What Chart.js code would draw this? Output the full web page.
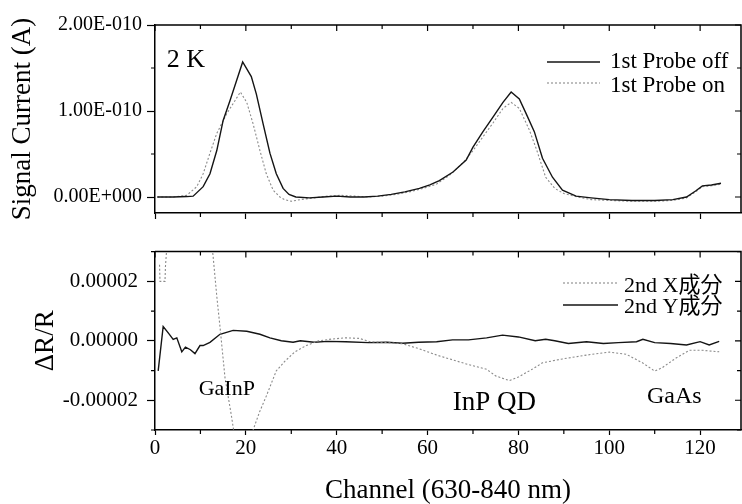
<!DOCTYPE html>
<html>
<head>
<meta charset="utf-8">
<script src="https://cdn.jsdelivr.net/npm/chart.js@4.4.0/dist/chart.umd.min.js"></script>
<style>
  html, body { margin: 0; padding: 0; background: #fff; }
  #wrap { position: relative; width: 742px; height: 504px; }
  canvas { position: absolute; left: 0; }
  #topPanel { top: 0; }
  #bottomPanel { top: 230px; }
</style>
</head>
<body>
<div id="wrap">
  <canvas id="topPanel" width="742" height="230"></canvas>
  <canvas id="bottomPanel" width="742" height="274"></canvas>
</div>
<script>
// ======================= data =======================
// upper panel: signal current (A)
const offChannels = [0.5, 4, 7, 8.4, 10.6, 12.1, 13.6, 15, 16.5, 18, 19.3, 21.2, 22.3, 23.8, 25.3, 26.7, 28.2, 29.5,
  31, 34, 37, 40, 43, 46, 49, 52, 55, 58.2, 60.5, 62.6, 65.6, 68.5, 70, 72.2, 74.4, 76.6, 78.4, 80.2, 81.7, 83.5,
  85.3, 87.5, 89.7, 92.7, 96, 100, 105, 110, 114, 117, 119, 120.5, 122.5, 124.6];
const offCurrent = [0, 0, 0.005e-10, 0.01e-10, 0.12e-10, 0.27e-10, 0.54e-10, 0.89e-10, 1.12e-10, 1.36e-10, 1.57e-10,
  1.40e-10, 1.2e-10, 0.85e-10, 0.51e-10, 0.27e-10, 0.1e-10, 0.03e-10,
  0, -0.01e-10, 0, 0.01e-10, 0, 0, 0.01e-10, 0.03e-10, 0.06e-10, 0.1e-10, 0.14e-10, 0.19e-10, 0.29e-10, 0.43e-10,
  0.58e-10, 0.76e-10, 0.93e-10, 1.10e-10, 1.22e-10, 1.14e-10, 0.97e-10, 0.76e-10,
  0.45e-10, 0.23e-10, 0.08e-10, 0.01e-10, -0.01e-10, -0.03e-10, -0.04e-10, -0.04e-10, -0.03e-10, 0, 0.07e-10,
  0.13e-10, 0.14e-10, 0.16e-10];

const onChannels = [0.5, 4, 7, 9.2, 10.6, 12.1, 13.6, 15.8, 17.6, 18.8, 20.2, 21.6, 23.1, 24.5, 26, 27.5, 28.5,
  30, 32, 35, 38, 41, 44, 47, 50, 53, 56, 59, 62, 65, 68, 70, 72.2, 74.4, 76.6, 78.4, 80.2, 82.4, 84,
  86, 88, 90, 93, 96, 100, 105, 110, 114, 117, 119, 120.5, 122.5, 124.6];
const onCurrent = [0, 0, 0.02e-10, 0.12e-10, 0.27e-10, 0.51e-10, 0.74e-10, 0.97e-10, 1.12e-10, 1.22e-10, 1.1e-10,
  0.85e-10, 0.54e-10, 0.27e-10, 0.08e-10, 0, -0.03e-10,
  -0.05e-10, -0.03e-10, -0.01e-10, 0.01e-10, 0.02e-10, 0.01e-10, 0, 0.01e-10, 0.03e-10, 0.06e-10, 0.1e-10,
  0.15e-10, 0.26e-10, 0.41e-10, 0.54e-10, 0.7e-10, 0.86e-10, 1.03e-10, 1.10e-10, 1.03e-10, 0.78e-10, 0.55e-10,
  0.23e-10, 0.1e-10, 0.04e-10, 0, -0.03e-10, -0.04e-10, -0.05e-10, -0.05e-10, -0.04e-10, -0.01e-10, 0.06e-10,
  0.12e-10, 0.13e-10, 0.15e-10];

// lower panel: dR/R
const xChannels = [1.0, 1.1, 2.2, 2.3, 3, 6, 9, 12, 12.8, 13.6, 14.3, 15.4, 16.8, 17.5, 18.5, 19.5, 20.5, 21.6,
  23, 24.5, 26.7, 28.5, 30.8, 33.3, 36, 39, 42, 45, 47.3, 51, 54.5, 58, 62, 65.5, 69, 73, 75, 78, 80, 83,
  85.3, 89.7, 95, 100, 103.7, 107.3, 110, 111.7, 114.7, 117.6, 120.5, 124.2];
const xComponent = [2.56e-5, 2.0e-5, 2.0e-5, 2.5e-5, 4.0e-5, 5.5e-5, 5.0e-5, 4.0e-5, 2.83e-5, 1.5e-5, 0.48e-5,
  -1.23e-5, -2.5e-5, -3.2e-5, -4.0e-5, -4.2e-5, -3.6e-5, -3.0e-5,
  -2.4e-5, -1.86e-5, -1.01e-5, -0.7e-5, -0.37e-5, -0.16e-5, 0, 0.06e-5, 0.1e-5, 0.08e-5, -0.03e-5, -0.06e-5,
  -0.1e-5, -0.26e-5, -0.48e-5, -0.64e-5, -0.8e-5, -0.96e-5, -1.18e-5, -1.34e-5, -1.22e-5, -0.96e-5,
  -0.74e-5, -0.61e-5, -0.48e-5, -0.38e-5, -0.45e-5, -0.74e-5, -1.02e-5, -0.9e-5, -0.58e-5, -0.32e-5,
  -0.32e-5, -0.37e-5];

const yChannels = [0.7, 1.8, 3, 4, 4.8, 5.9, 6.7, 7.8, 8.8, 9.9, 10.6, 12.1, 14.3, 17.2, 20.2, 23.1, 25.3, 27.8,
  30.4, 32, 35, 38, 42, 47, 51, 54.5, 58, 62, 65.5, 69, 73, 76.5, 80, 83.7, 86, 88, 91, 95, 98.7, 102, 106,
  107.4, 110, 113.5, 117, 120, 122, 124.2];
const yComponent = [-1.01e-5, 0.48e-5, 0.25e-5, 0.05e-5, 0.1e-5, -0.37e-5, -0.21e-5, -0.3e-5, -0.43e-5, -0.16e-5,
  -0.16e-5, -0.05e-5, 0.22e-5, 0.35e-5, 0.32e-5, 0.22e-5, 0.1e-5, 0,
  -0.05e-5, 0, -0.05e-5, -0.02e-5, -0.03e-5, -0.06e-5, -0.05e-5, -0.08e-5, -0.05e-5, -0.03e-5, 0.03e-5, 0.03e-5,
  0.1e-5, 0.19e-5, 0.13e-5, 0, 0.05e-5, 0, -0.09e-5, -0.03e-5, -0.09e-5, -0.06e-5, -0.03e-5,
  0.05e-5, -0.06e-5, -0.09e-5, -0.14e-5, -0.03e-5, -0.14e-5, -0.02e-5];

const topLabels = ["1st Probe off", "1st Probe on"];
const bottomLabels = ["2nd X成分", "2nd Y成分"];

// major (labelled) ticks
const channelTicks = [0, 20, 40, 60, 80, 100, 120];
const currentTicks = [0, 1e-10, 2e-10];
const ratioTicks = [-2e-5, 0, 2e-5];

// text marks in the panels: [text, channel, value, font size, align]
const topNotes = [["2 K", 2.6, 1.51e-10, 26, "left"]];
const bottomNotes = [
  ["GaInP", 15.8, -1.82e-5, 22, "center"],
  ["InP QD", 74.7, -2.34e-5, 27, "center"],
  ["GaAs", 114.3, -2.08e-5, 24, "center"],
];

// ======================= helpers =======================
const SERIF = "'Liberation Serif', 'Noto Sans CJK JP', serif";
Chart.defaults.font.family = SERIF;
Chart.defaults.color = "#000";

const toPoints = (xs, ys) => xs.map((x, i) => ({ x: x, y: ys[i] }));

function splitTicks(scale, majors) {
  const eps = scale.options.ticks.stepSize * 1e-3;
  const isMajor = v => majors.some(m => Math.abs(v - m) < eps);
  scale.minorValues = scale.ticks.filter(t => !isMajor(t.value)).map(t => t.value);
  scale.ticks = scale.ticks.filter(t => isMajor(t.value));
}

function formatE(v) {
  if (Math.abs(v) < 1e-15) return "0.00E+000";
  const parts = v.toExponential(2).split("e");
  const n = parseInt(parts[1], 10);
  return parts[0] + "E" + (n < 0 ? "-" : "+") + String(Math.abs(n)).padStart(3, "0");
}

// frame on top/right, minor ticks, mirrored ticks, legend and notes
const panelDecor = {
  id: "panelDecor",
  afterDraw(chart, args, opts) {
    const { ctx, chartArea: a } = chart;
    const x = chart.scales.x, y = chart.scales.y;
    ctx.save();
    ctx.strokeStyle = "#000";
    ctx.lineWidth = 1.5;
    ctx.beginPath();
    ctx.moveTo(a.left, a.top);
    ctx.lineTo(a.right, a.top);
    ctx.lineTo(a.right, a.bottom);
    ctx.stroke();

    ctx.lineWidth = 1.2;
    ctx.beginPath();
    x.ticks.forEach(t => {
      const p = x.getPixelForValue(t.value);
      ctx.moveTo(p, a.top); ctx.lineTo(p, a.top + 6);
    });
    (x.minorValues || []).forEach(v => {
      const p = x.getPixelForValue(v);
      ctx.moveTo(p, a.top); ctx.lineTo(p, a.top + 4);
      ctx.moveTo(p, a.bottom); ctx.lineTo(p, a.bottom + 4);
    });
    y.ticks.forEach(t => {
      const p = y.getPixelForValue(t.value);
      ctx.moveTo(a.right, p); ctx.lineTo(a.right - 6, p);
    });
    (y.minorValues || []).forEach(v => {
      const p = y.getPixelForValue(v);
      ctx.moveTo(a.left, p); ctx.lineTo(a.left - 4, p);
      ctx.moveTo(a.right, p); ctx.lineTo(a.right - 4, p);
    });
    ctx.stroke();

    // legend
    const lg = opts.legend;
    ctx.font = lg.size + "px " + SERIF;
    ctx.textAlign = "left";
    ctx.textBaseline = "alphabetic";
    chart.data.datasets.forEach((ds, i) => {
      ctx.strokeStyle = ds.borderColor;
      ctx.lineWidth = ds.borderWidth;
      ctx.setLineDash(ds.borderDash || []);
      ctx.beginPath();
      ctx.moveTo(lg.x1, lg.lineY[i]);
      ctx.lineTo(lg.x2, lg.lineY[i]);
      ctx.stroke();
      ctx.setLineDash([]);
      ctx.fillStyle = "#000";
      ctx.fillText(ds.label, lg.textX, lg.textY[i]);
    });

    // notes
    opts.notes.forEach(n => {
      ctx.font = n[3] + "px " + SERIF;
      ctx.textAlign = n[4];
      ctx.fillText(n[0], x.getPixelForValue(n[1]), y.getPixelForValue(n[2]));
    });
    ctx.restore();
  }
};

function xScale(height, showLabels, title) {
  return {
    type: "linear", min: 0, max: 129,
    ticks: {
      stepSize: 10, includeBounds: false, autoSkip: false, maxRotation: 0, padding: 1, font: { size: 21 },
      callback: v => (showLabels ? String(v) : "")
    },
    afterBuildTicks: s => splitTicks(s, channelTicks),
    afterFit: s => { s.height = height; },
    grid: { drawOnChartArea: false, tickLength: showLabels ? 5 : 6, tickColor: "#000", tickWidth: 1.2 },
    border: { color: "#000", width: 1.5 },
    title: title
  };
}

// ======================= upper chart =======================
new Chart(document.getElementById("topPanel").getContext("2d"), {
  type: "line",
  data: {
    datasets: [
      { label: topLabels[0], data: toPoints(offChannels, offCurrent),
        borderColor: "#141414", borderWidth: 1.4, pointRadius: 0 },
      { label: topLabels[1], data: toPoints(onChannels, onCurrent),
        borderColor: "#8a8a8a", borderWidth: 1.1, borderDash: [2, 2], pointRadius: 0 },
    ],
  },
  options: {
    responsive: false,
    animation: false,
    layout: { padding: { top: 25, right: 1, left: 0, bottom: 0 } },
    scales: {
      x: xScale(17, false, { display: false }),
      y: {
        min: -1.86e-11, max: 2e-10,
        ticks: { stepSize: 5e-11, includeBounds: false, autoSkip: false, padding: 5, font: { size: 20 },
          callback: v => formatE(v) },
        afterBuildTicks: s => splitTicks(s, currentTicks),
        afterFit: s => { s.width = 155; },
        grid: { drawOnChartArea: false, tickLength: 8, tickColor: "#000", tickWidth: 1.2 },
        border: { color: "#000", width: 1.5 },
        title: { display: true, text: "Signal Current (A)", font: { size: 27, lineHeight: 1 },
          padding: { top: 9, bottom: 0 } },
      },
    },
    plugins: {
      legend: { display: false },
      tooltip: { enabled: false },
      panelDecor: {
        legend: { size: 23, x1: 547, x2: 600, textX: 610, lineY: [62, 83], textY: [68, 92] },
        notes: topNotes,
      },
    },
  },
  plugins: [panelDecor],
});

// ======================= lower chart =======================
new Chart(document.getElementById("bottomPanel").getContext("2d"), {
  type: "line",
  data: {
    datasets: [
      { label: bottomLabels[0], data: toPoints(xChannels, xComponent),
        borderColor: "#8a8a8a", borderWidth: 1.1, borderDash: [2, 2], pointRadius: 0 },
      { label: bottomLabels[1], data: toPoints(yChannels, yComponent),
        borderColor: "#141414", borderWidth: 1.4, pointRadius: 0 },
    ],
  },
  options: {
    responsive: false,
    animation: false,
    layout: { padding: { top: 12, right: 1, left: 0, bottom: 0 } },
    scales: {
      x: xScale(74, true, { display: true, text: "Channel (630-840 nm)", font: { size: 27, lineHeight: 1 },
        padding: { top: 0, bottom: 0 } }),
      y: {
        min: -3e-5, max: 3e-5,
        ticks: { stepSize: 1e-5, includeBounds: false, autoSkip: false, padding: 9, font: { size: 21 },
          callback: v => (Math.abs(v) < 1e-12 ? "0.00000" : v.toFixed(5)) },
        afterBuildTicks: s => splitTicks(s, ratioTicks),
        afterFit: s => { s.width = 155; },
        grid: { drawOnChartArea: false, tickLength: 8, tickColor: "#000", tickWidth: 1.2 },
        border: { color: "#000", width: 1.5 },
        title: { display: true, text: "ΔR/R", font: { size: 27, lineHeight: 1 },
          padding: { top: 32, bottom: 0 } },
      },
    },
    plugins: {
      legend: { display: false },
      tooltip: { enabled: false },
      panelDecor: {
        legend: { size: 22, x1: 563, x2: 618, textX: 624, lineY: [53, 75], textY: [62, 83] },
        notes: bottomNotes,
      },
    },
  },
  plugins: [panelDecor],
});
</script>
</body>
</html>
